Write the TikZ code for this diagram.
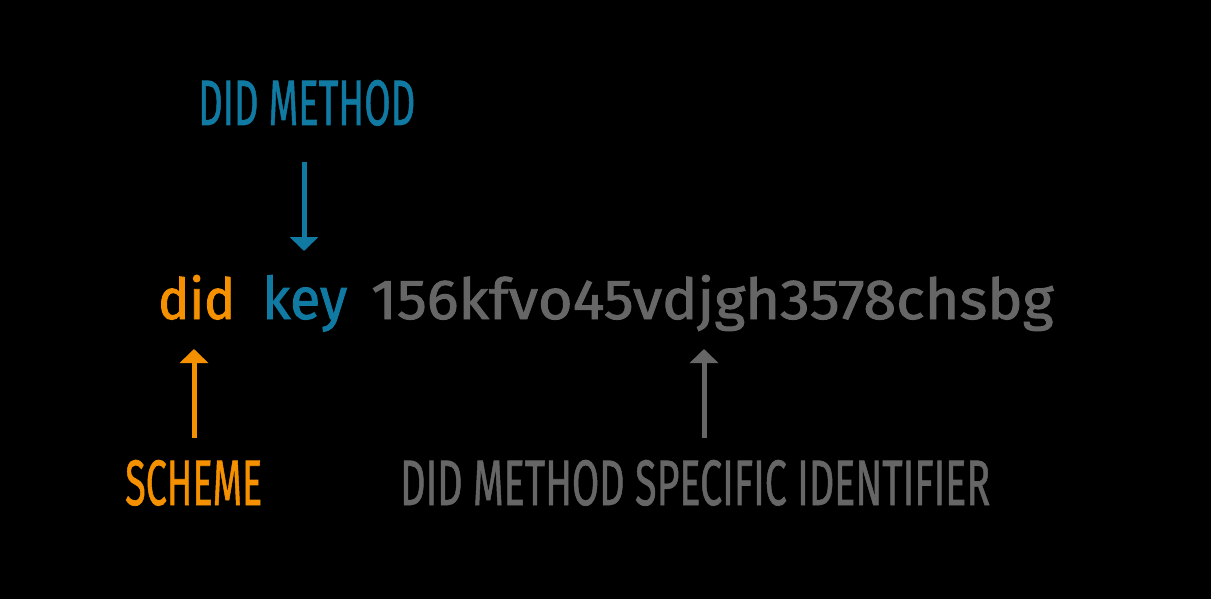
\documentclass[tikz,border=0pt]{standalone}
\usepackage{fontspec}
\setmainfont{Fira Sans}
\newfontfamily\idfont[FakeBold=1.6]{Fira Sans}
\newfontfamily\lblfont[FakeBold=1.2]{Fira Sans}
\usetikzlibrary{arrows.meta}
\definecolor{didorange}{RGB}{245,145,0}
\definecolor{didblue}{RGB}{16,122,162}
\definecolor{didgrey}{RGB}{102,102,102}
\tikzset{
  word/.style={inner sep=0pt, anchor=base west, font=\idfont},
  lbl/.style={inner sep=0pt, anchor=base west, font=\lblfont},
  pointer/.style={line width=5pt, -{Triangle[width=28pt,length=14pt]}},
}
\begin{document}
\begin{tikzpicture}[x=1pt,y=-1pt]
\fill[black] (0,0) rectangle (1211,599);
\useasboundingbox (0,0) rectangle (1211,599);
% main identifier
\node[word, text=didorange] (did) at (158,319) {\resizebox{77pt}{44pt}{did}};
\node[word, text=didblue] (key) at (262,319) {\resizebox{85pt}{44pt}{key}};
\node[word, text=didgrey] (msi) at (371,319) {\resizebox{682pt}{44pt}{156kfvo45vdjgh3578chsbg}};
% labels
\node[lbl, text=didblue] (lmethod) at (198,125) {\resizebox{217pt}{45pt}{DID METHOD}};
\node[lbl, text=didorange] (lscheme) at (125,505) {\resizebox{137pt}{45pt}{SCHEME}};
\node[lbl, text=didgrey] (lmsi) at (400,505) {\resizebox{590pt}{45pt}{DID METHOD SPECIFIC IDENTIFIER}};
% arrow ends
\coordinate (mTop) at (304,162);
\coordinate (mTip) at (304,251);
\coordinate (sBot) at (194,438);
\coordinate (sTip) at (194,349);
\coordinate (iBot) at (704,438);
\coordinate (iTip) at (704,349);
\draw[pointer, didblue] (mTop) -- (mTip);
\draw[pointer, didorange] (sBot) -- (sTip);
\draw[pointer, didgrey] (iBot) -- (iTip);
\end{tikzpicture}
\end{document}
